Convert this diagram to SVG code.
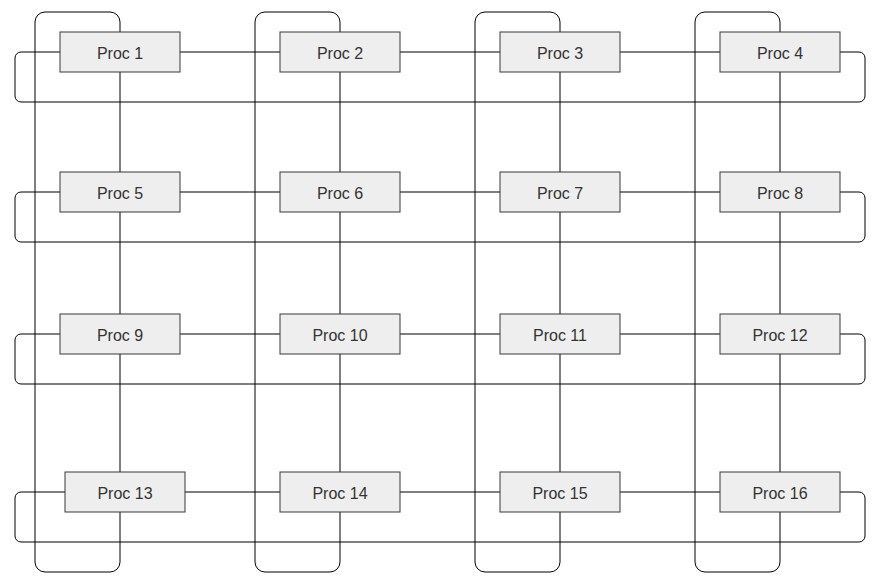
<svg xmlns="http://www.w3.org/2000/svg" width="878" height="586" viewBox="0 0 878 586">
<style>
.e{fill:none;stroke:#000;stroke-width:1}
.n rect{fill:#eeeeee;stroke:#36393d;stroke-width:1}
.n text{font-family:"Liberation Sans",Arial,sans-serif;font-size:16px;fill:#333333;text-anchor:middle;dominant-baseline:central}
</style>
<rect width="878" height="586" fill="#fff"/>
<g id="connectors">
<path class="e" d="M120 32V22A10 10 0 0 0 110 12H45A10 10 0 0 0 35 22V562A10 10 0 0 0 45 572H110A10 10 0 0 0 120 562V512"/>
<path class="e" d="M340 32V22A10 10 0 0 0 330 12H265A10 10 0 0 0 255 22V562A10 10 0 0 0 265 572H330A10 10 0 0 0 340 562V512"/>
<path class="e" d="M560 32V22A10 10 0 0 0 550 12H485A10 10 0 0 0 475 22V562A10 10 0 0 0 485 572H550A10 10 0 0 0 560 562V512"/>
<path class="e" d="M780 32V22A10 10 0 0 0 770 12H705A10 10 0 0 0 695 22V562A10 10 0 0 0 705 572H770A10 10 0 0 0 780 562V512"/>
<path class="e" d="M60 52H21A6 6 0 0 0 15 58V96A6 6 0 0 0 21 102H859A6 6 0 0 0 865 96V58A6 6 0 0 0 859 52H840"/>
<path class="e" d="M60 192H21A6 6 0 0 0 15 198V236A6 6 0 0 0 21 242H859A6 6 0 0 0 865 236V198A6 6 0 0 0 859 192H840"/>
<path class="e" d="M60 334H21A6 6 0 0 0 15 340V378A6 6 0 0 0 21 384H859A6 6 0 0 0 865 378V340A6 6 0 0 0 859 334H840"/>
<path class="e" d="M65 492H21A6 6 0 0 0 15 498V536A6 6 0 0 0 21 542H859A6 6 0 0 0 865 536V498A6 6 0 0 0 859 492H840"/>
<path class="e" d="M180 52H280M400 52H500M620 52H720M180 192H280M400 192H500M620 192H720M180 334H280M400 334H500M620 334H720M185 492H280M400 492H500M620 492H720"/>
<path class="e" d="M120 72V172M120 212V314M120 354V472M340 72V172M340 212V314M340 354V472M560 72V172M560 212V314M560 354V472M780 72V172M780 212V314M780 354V472"/>
</g>
<g id="p1" class="n"><rect x="60" y="32" width="120" height="40"/><text x="120" y="53">Proc 1</text></g>
<g id="p2" class="n"><rect x="280" y="32" width="120" height="40"/><text x="340" y="53">Proc 2</text></g>
<g id="p3" class="n"><rect x="500" y="32" width="120" height="40"/><text x="560" y="53">Proc 3</text></g>
<g id="p4" class="n"><rect x="720" y="32" width="120" height="40"/><text x="780" y="53">Proc 4</text></g>
<g id="p5" class="n"><rect x="60" y="172" width="120" height="40"/><text x="120" y="193">Proc 5</text></g>
<g id="p6" class="n"><rect x="280" y="172" width="120" height="40"/><text x="340" y="193">Proc 6</text></g>
<g id="p7" class="n"><rect x="500" y="172" width="120" height="40"/><text x="560" y="193">Proc 7</text></g>
<g id="p8" class="n"><rect x="720" y="172" width="120" height="40"/><text x="780" y="193">Proc 8</text></g>
<g id="p9" class="n"><rect x="60" y="314" width="120" height="40"/><text x="120" y="335">Proc 9</text></g>
<g id="p10" class="n"><rect x="280" y="314" width="120" height="40"/><text x="340" y="335">Proc 10</text></g>
<g id="p11" class="n"><rect x="500" y="314" width="120" height="40"/><text x="560" y="335">Proc 11</text></g>
<g id="p12" class="n"><rect x="720" y="314" width="120" height="40"/><text x="780" y="335">Proc 12</text></g>
<g id="p13" class="n"><rect x="65" y="472" width="120" height="40"/><text x="125" y="493">Proc 13</text></g>
<g id="p14" class="n"><rect x="280" y="472" width="120" height="40"/><text x="340" y="493">Proc 14</text></g>
<g id="p15" class="n"><rect x="500" y="472" width="120" height="40"/><text x="560" y="493">Proc 15</text></g>
<g id="p16" class="n"><rect x="720" y="472" width="120" height="40"/><text x="780" y="493">Proc 16</text></g>
</svg>
